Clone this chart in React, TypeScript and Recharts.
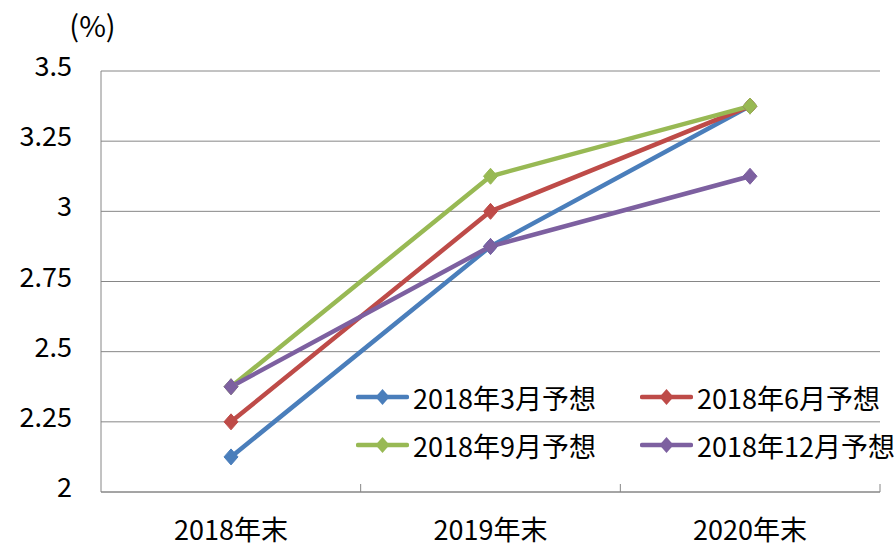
import React from 'react';
import { LineChart, Line, XAxis, YAxis, CartesianGrid } from 'recharts';

const categories = ['2018年末', '2019年末', '2020年末'];
const forecastMar = [2.125, 2.875, 3.375];
const forecastJun = [2.25, 3.0, 3.375];
const forecastSep = [2.375, 3.125, 3.375];
const forecastDec = [2.375, 2.875, 3.125];
const seriesNames = ['2018年3月予想', '2018年6月予想', '2018年9月予想', '2018年12月予想'];
const seriesColors = ['#4A7EBB', '#BE4B48', '#98B954', '#7D60A0'];
const yTicks = [2, 2.25, 2.5, 2.75, 3, 3.25, 3.5];
const unitLabel = '(%)';

const seriesValues = [forecastMar, forecastJun, forecastSep, forecastDec];
const data = categories.map((c, i) => {
  const row: Record<string, string | number> = { name: c };
  seriesValues.forEach((vals, s) => {
    row['s' + s] = vals[i];
  });
  return row;
});

const FONT = "'Noto Sans CJK JP', 'Noto Sans', sans-serif";
const FS = 27;
const GRID = '#868686';

const makeDiamond = (color: string) => (props: any) => {
  const { cx, cy, index } = props;
  if (cx == null || cy == null) return <g key={`d-${index}`} />;
  return (
    <polygon
      key={`d-${index}`}
      points={`${cx},${cy - 8} ${cx + 7},${cy} ${cx},${cy + 8} ${cx - 7},${cy}`}
      fill={color}
      stroke={color}
      strokeWidth={1}
    />
  );
};

const YTick = (props: any) => {
  const { x, y, payload } = props;
  return (
    <text x={x} y={y} dy={5} textAnchor="end" fontSize={FS} fontFamily={FONT} fill="#000">
      {payload.value}
    </text>
  );
};

const XTick = (props: any) => {
  const { x, y, payload } = props;
  return (
    <text x={x} y={y} dy={19} textAnchor="middle" fontSize={FS} fontFamily={FONT} fill="#000">
      {payload.value}
    </text>
  );
};

const bandEdges = (args: any) => {
  const { offset } = args;
  const n = categories.length;
  const out: number[] = [];
  for (let k = 1; k <= n; k++) out.push(offset.left + (offset.width * k) / n);
  return out;
};

const LegendIcon = ({ color }: { color: string }) => (
  <svg width={53} height={20} style={{ display: 'block', flex: 'none' }}>
    <line x1={2} y1={10} x2={51} y2={10} stroke={color} strokeWidth={4.5} strokeLinecap="round" />
    <polygon points="26.5,2 33.5,10 26.5,18 19.5,10" fill={color} />
  </svg>
);

export default function App() {
  return (
    <div style={{ position: 'absolute', left: 0, top: 0, width: 895, height: 547, background: '#fff' }}>
      <LineChart
        width={895}
        height={547}
        data={data}
        margin={{ top: 71, right: 15, bottom: 0, left: 0 }}
      >
        <CartesianGrid horizontal vertical={false} stroke={GRID} strokeWidth={1} />
        <CartesianGrid
          horizontal={false}
          vertical
          y={484}
          height={8}
          stroke={GRID}
          strokeWidth={1}
          verticalCoordinatesGenerator={bandEdges}
        />
        <XAxis
          dataKey="name"
          type="category"
          scale="point"
          padding={{ left: 130, right: 130 }}
          height={55}
          tickLine={false}
          tickSize={0}
          tickMargin={29}
          tick={<XTick />}
          axisLine={{ stroke: GRID, strokeWidth: 1 }}
        />
        <YAxis
          type="number"
          domain={[2, 3.5]}
          ticks={yTicks}
          width={101}
          tickLine={false}
          tickSize={0}
          tickMargin={29}
          tick={<YTick />}
          axisLine={{ stroke: GRID, strokeWidth: 1 }}
        />
        {seriesNames.map((name, s) => (
          <Line
            key={name}
            name={name}
            dataKey={'s' + s}
            stroke={seriesColors[s]}
            strokeWidth={4.5}
            dot={makeDiamond(seriesColors[s])}
            activeDot={false}
            isAnimationActive={false}
          />
        ))}
      </LineChart>
      <div
        style={{
          position: 'absolute',
          left: 30,
          top: 10,
          width: 125,
          textAlign: 'center',
          fontFamily: FONT,
          fontSize: 29,
          lineHeight: '29px',
          color: '#000',
        }}
      >
        {unitLabel}
      </div>
      <div
        style={{
          position: 'absolute',
          left: 356,
          top: 373,
          width: 600,
          display: 'flex',
          flexWrap: 'wrap',
          fontFamily: FONT,
          fontSize: FS,
          color: '#000',
        }}
      >
        {seriesNames.map((name, s) => (
          <div
            key={name}
            style={{ width: 284, height: 48, display: 'flex', alignItems: 'center' }}
          >
            <LegendIcon color={seriesColors[s]} />
            <span style={{ marginLeft: 4, whiteSpace: 'nowrap', lineHeight: '27px' }}>{name}</span>
          </div>
        ))}
      </div>
    </div>
  );
}
